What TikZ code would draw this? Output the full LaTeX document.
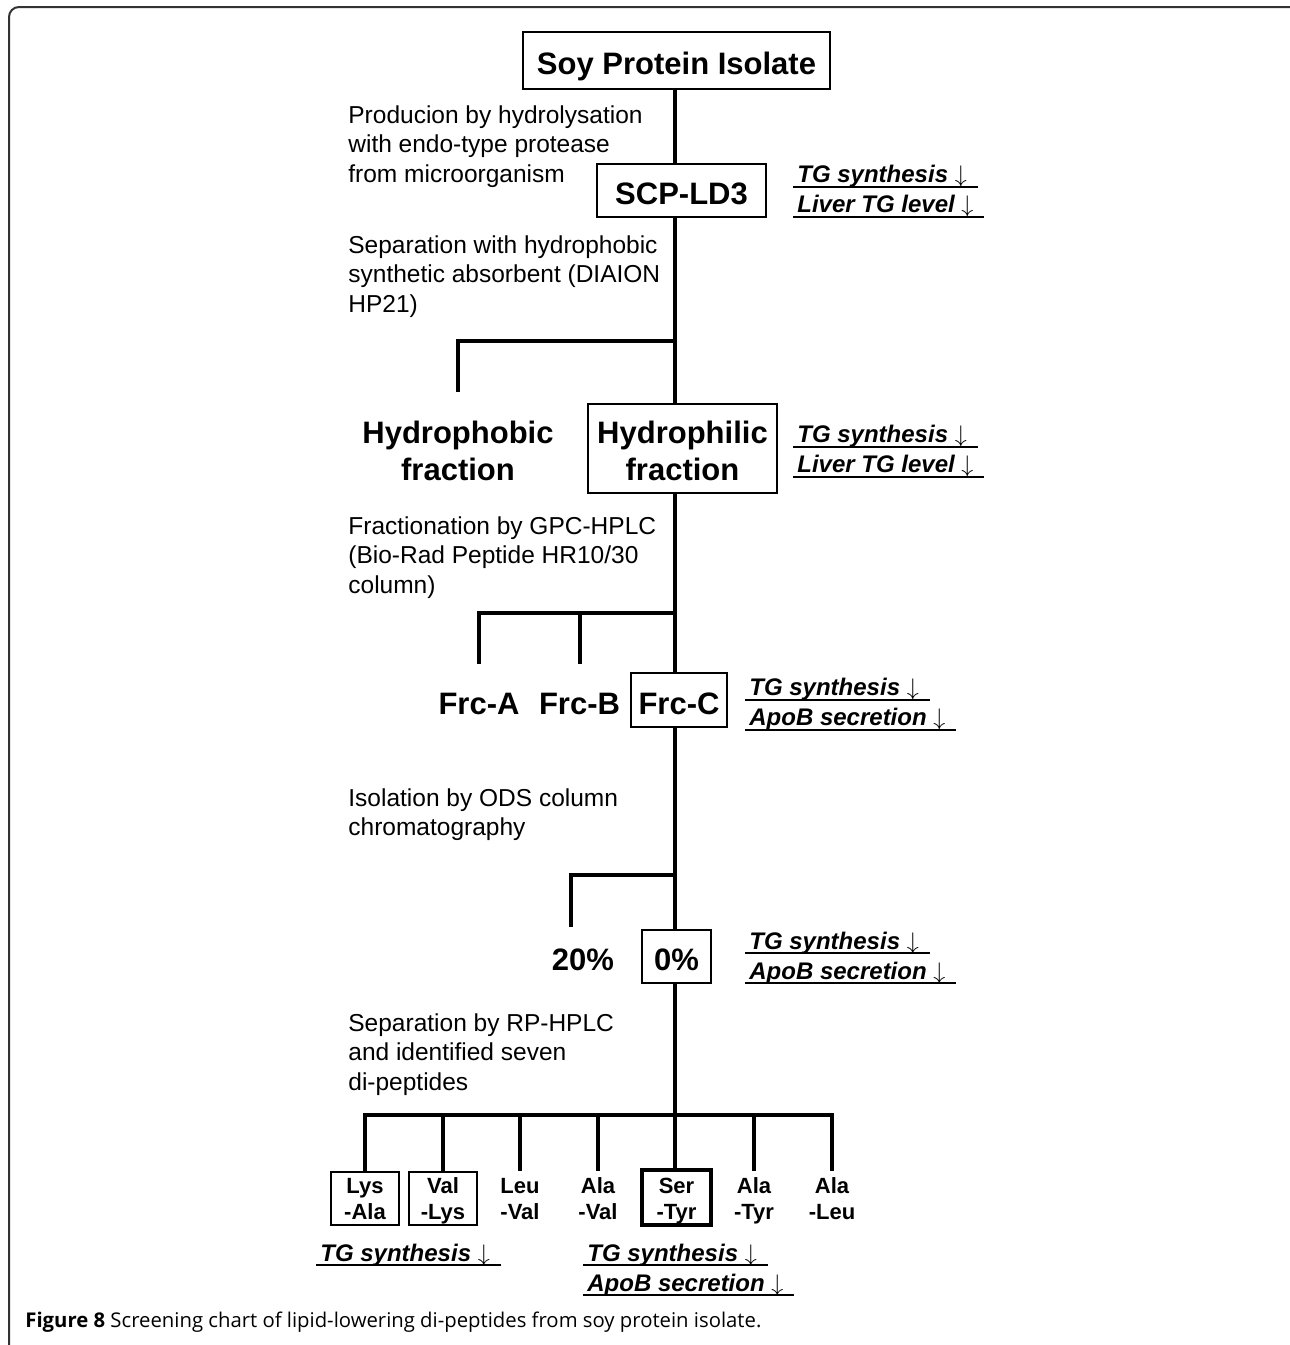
\documentclass[tikz,border=0pt]{standalone}
\usepackage{fontspec}
\setmainfont{Liberation Sans}
\newfontfamily\capfont{Open Sans}
\newcommand{\ulnote}[1]{\setbox0\hbox{\hspace{2pt}#1\hspace{5.5pt}}\rlap{\rule[-2.5pt]{\wd0}{1pt}}\box0}
\newcommand{\dipep}[2]{\rule{0pt}{11pt}#1\\-#2\rule[-2.5pt]{0pt}{2.5pt}}

\begin{document}
\begin{tikzpicture}[x=0.5pt, y=-0.5pt,
    stem/.style={line width=2pt},
    outlined/.style={draw, line width=1pt, fill=white},
    big/.style={font=\fontsize{15.5}{18.5}\selectfont\bfseries, align=center, inner sep=0pt},
    oneline/.style={text height=14.1pt, text depth=0pt},
    desc/.style={font=\fontsize{12.25}{14.75}\selectfont, align=left, anchor=north west, inner sep=0pt},
    note/.style={font=\fontsize{12}{15}\selectfont\bfseries\itshape, align=left, anchor=west, inner sep=0pt},
    pep/.style={font=\fontsize{11}{13}\selectfont\bfseries, align=center, inner sep=0pt, minimum width=34pt, minimum height=26pt}]
      \useasboundingbox (0,0) rectangle (1290,1345);
      \draw [line width=1pt, black!80, rounded corners=5pt] (9,1345) -- (9,7) -- (1290,7);

      \node [big, oneline, outlined, minimum width=153.5pt, minimum height=28.5pt] (soy) at (676.5,60.5) {Soy Protein Isolate};
      \node [big, oneline, outlined, minimum width=84.5pt, minimum height=26.5pt] (scp) at (681.5,190.5) {SCP-LD3};
      \node [big, minimum height=44.5pt] (hphob) at (458,448.5) {\rule{0pt}{14.1pt}Hydrophobic\\fraction};
      \node [big, outlined, minimum width=94.5pt, minimum height=44.5pt] (hphil) at (682.5,448.5) {\rule{0pt}{14.1pt}Hydrophilic\\fraction};
      \node [big, oneline, minimum height=27pt] (frca) at (479,700) {Frc-A};
      \node [big, oneline, minimum height=27pt] (frcb) at (579.5,700) {Frc-B};
      \node [big, oneline, outlined, minimum width=48pt, minimum height=27pt] (frcc) at (679,700) {Frc-C};
      \node [big, oneline, minimum height=26.5pt] (p20) at (583,956.5) {20\%};
      \node [big, oneline, outlined, minimum width=34.5pt, minimum height=26.5pt] (zero) at (676.5,956.5) {0\%};

      \node [pep, draw, line width=1pt] (lysala) at (365,1198) {\dipep{Lys}{Ala}};
      \node [pep, draw, line width=1pt] (vallys) at (443,1198) {\dipep{Val}{Lys}};
      \node [pep] (leuval) at (520,1198) {\dipep{Leu}{Val}};
      \node [pep] (alaval) at (598,1198) {\dipep{Ala}{Val}};
      \node [pep, draw, line width=1.75pt, minimum width=34.5pt, minimum height=27.5pt] (sertyr) at (676.5,1197.5) {\dipep{Ser}{Tyr}};
      \node [pep] (alatyr) at (754,1198) {\dipep{Ala}{Tyr}};
      \node [pep] (alaleu) at (832,1198) {\dipep{Ala}{Leu}};

      \node [desc] (step1) at (348,105) {Producion by hydrolysation\\with endo-type protease\\from microorganism};
      \node [desc] (step2) at (348,235) {Separation with hydrophobic\\synthetic absorbent (DIAION\\HP21)};
      \node [desc] (step3) at (348,516) {Fractionation by GPC-HPLC\\(Bio-Rad Peptide HR10/30\\column)};
      \node [desc] (step4) at (348,788) {Isolation by ODS column\\chromatography};
      \node [desc] (step5) at (348,1013) {Separation by RP-HPLC\\and identified seven\\di-peptides};

      \node [note] (eff1) at (793,191.5) {\ulnote{TG synthesis $\downarrow$}\\\ulnote{Liver TG level $\downarrow$}};
      \node [note] (eff2) at (793,451.5) {\ulnote{TG synthesis $\downarrow$}\\\ulnote{Liver TG level $\downarrow$}};
      \node [note] (eff3) at (745,704.5) {\ulnote{TG synthesis $\downarrow$}\\\ulnote{ApoB secretion $\downarrow$}};
      \node [note] (eff4) at (745,958) {\ulnote{TG synthesis $\downarrow$}\\\ulnote{ApoB secretion $\downarrow$}};
      \node [note] (eff5) at (316,1255) {\ulnote{TG synthesis $\downarrow$}};
      \node [note] (eff6) at (583,1270) {\ulnote{TG synthesis $\downarrow$}\\\ulnote{ApoB secretion $\downarrow$}};

      \coordinate (spine) at (675,0);
      \coordinate (j1) at (675,341);
      \coordinate (j2) at (675,613);
      \coordinate (j3) at (675,875);
      \coordinate (j4) at (675,1115);
      \draw [stem] (spine |- soy.south) -- (spine |- scp.north);
      \draw [stem] (spine |- scp.south) -- (spine |- hphil.north);
      \draw [stem] (spine |- hphil.south) -- (spine |- frcc.north);
      \draw [stem] (spine |- frcc.south) -- (spine |- zero.north);
      \draw [stem] (spine |- zero.south) -- (spine |- sertyr.north);

      \draw [stem, shorten >=6pt] (j1) -| (hphob);
      \draw [stem, shorten >=4.5pt] (j2) -| (frca);
      \draw [stem, shorten >=4.5pt] (j2) -| (frcb);
      \draw [stem, shorten >=1.5pt] (j3) -| ([xshift=-6pt]p20.north);
      \foreach \p in {lysala,vallys,leuval,alaval,alatyr,alaleu}
        \draw [stem] (j4) -| (\p);

      \node [anchor=base west, inner sep=0pt, font={\capfont\fontsize{10.15}{12}\selectfont}] (caption) at (25,1327) {\textbf{Figure 8} Screening chart of lipid-lowering di-peptides from soy protein isolate.};
\end{tikzpicture}
\end{document}
